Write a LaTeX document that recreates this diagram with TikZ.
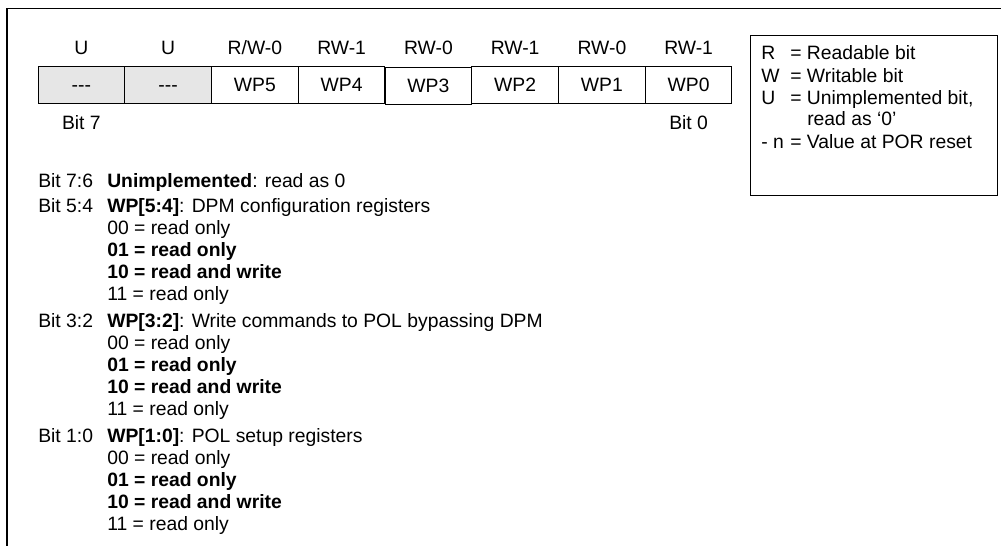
\documentclass[tikz,border=0pt]{standalone}
\usepackage{fontspec}
\setmainfont{Liberation Sans}
\usepackage{xcolor}
\definecolor{ungray}{HTML}{E6E6E6}
\begin{document}
\begin{tikzpicture}[x=0.75pt,y=-0.75pt,
	every node/.style={inner sep=0pt,font=\fontsize{14.5}{17}\selectfont},
	cell/.style={draw=black,line width=0.75pt,minimum width=65.06pt,minimum height=27.75pt},
	txt/.style={anchor=base west},
	mid/.style={anchor=base}]
				\useasboundingbox (0,0) rectangle (1001,546);
				\draw [black,line width=0.9pt] (7,546) -- (7,8.5) -- (1001,8.5);
				\node [mid] (h7) at (81.4,54) {U};
				\node [mid] (h6) at (168.1,54) {U};
				\node [mid] (h5) at (254.9,54) {R/W-0};
				\node [mid] (h4) at (341.6,54) {RW-1};
				\node [mid] (h3) at (428.4,54) {RW-0};
				\node [mid] (h2) at (515.1,54) {RW-1};
				\node [mid] (h1) at (601.9,54) {RW-0};
				\node [mid] (h0) at (688.6,54) {RW-1};
				\node [cell,fill=ungray] (c7) at (81.4,84.5) {\vphantom{WP}{-}{-}{-}};
				\node [cell,fill=ungray] (c6) at (168.1,84.5) {\vphantom{WP}{-}{-}{-}};
				\node [cell] (c5) at (254.9,84.5) {WP5};
				\node [cell] (c4) at (341.6,84.5) {WP4};
				\node [cell] (c2) at (515.1,84.5) {WP2};
				\node [cell] (c1) at (601.9,84.5) {WP1};
				\node [cell] (c0) at (688.6,84.5) {WP0};
				\node [cell] (c3) at (428.4,85.8) {WP3};
				\node [mid] (lb7) at (81.4,129) {Bit 7};
				\node [mid] (lb0) at (688.6,129) {Bit 0};
				\node [draw=black,line width=0.75pt,minimum width=185.25pt,minimum height=120pt] (key) at (873.5,115) {};
				\node [txt] (kr) at (761,60) {R};
				\node [txt] (kre) at (790,60) {= Readable bit};
				\node [txt] (kw) at (761,82) {W};
				\node [txt] (kwe) at (790,82) {= Writable bit};
				\node [txt] (ku) at (761,104) {U};
				\node [txt] (kue) at (790,104) {= Unimplemented bit,};
				\node [txt] (kua) at (807,125) {read as ‘0’};
				\node [txt] (kn) at (761,148) {- n};
				\node [txt] (kne) at (790,148) {= Value at POR reset};
				\node [txt] (b76) at (38,187) {Bit 7:6};
				\node [txt] (d76) at (107,187) {\textbf{Unimplemented}: read as 0};
				\node [txt] (b54) at (38,212) {Bit 5:4};
				\node [txt] (d54) at (107,212) {\textbf{WP[5:4]}: DPM configuration registers};
				\node [txt] (d54a) at (107,234) {00 = read only};
				\node [txt] (d54b) at (107,256) {\textbf{01 = read only}};
				\node [txt] (d54c) at (107,278) {\textbf{10 = read and write}};
				\node [txt] (d54d) at (107,300) {11 = read only};
				\node [txt] (b32) at (38,327) {Bit 3:2};
				\node [txt] (d32) at (107,327) {\textbf{WP[3:2]}: Write commands to POL bypassing DPM};
				\node [txt] (d32a) at (107,349) {00 = read only};
				\node [txt] (d32b) at (107,371) {\textbf{01 = read only}};
				\node [txt] (d32c) at (107,393) {\textbf{10 = read and write}};
				\node [txt] (d32d) at (107,415) {11 = read only};
				\node [txt] (b10) at (38,442) {Bit 1:0};
				\node [txt] (d10) at (107,442) {\textbf{WP[1:0]}: POL setup registers};
				\node [txt] (d10a) at (107,464) {00 = read only};
				\node [txt] (d10b) at (107,486) {\textbf{01 = read only}};
				\node [txt] (d10c) at (107,508) {\textbf{10 = read and write}};
				\node [txt] (d10d) at (107,530) {11 = read only};
				\end{tikzpicture}
\end{document}
